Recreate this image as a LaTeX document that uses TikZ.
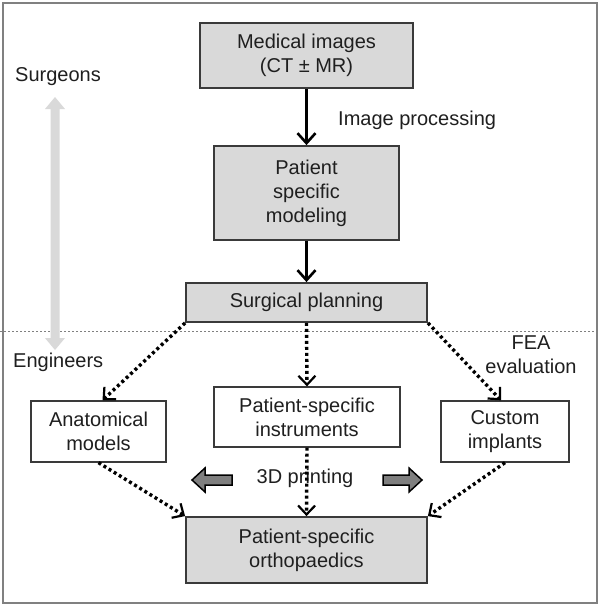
\documentclass[tikz,border=0pt]{standalone}
\usepackage{fontspec}
\setmainfont{Liberation Sans}
\usetikzlibrary{arrows.meta}
\definecolor{boxfill}{HTML}{D9D9D9}
\definecolor{boxline}{HTML}{3A3A3A}
\definecolor{lightarrow}{HTML}{D9D9D9}
\definecolor{blockfill}{HTML}{7F7F7F}
\begin{document}
\begin{tikzpicture}[x=1pt,y=-1pt,
  every node/.style={font=\fontsize{20}{24}\selectfont, text=black!88, align=center, inner sep=0pt},
  graybox/.style={draw=boxline, line width=1.8pt, fill=boxfill},
  whitebox/.style={draw=boxline, line width=1.3pt, fill=white},
  solidarrow/.style={draw=black, line width=2.6pt, -{Straight Barb[length=10pt,width=18pt,line width=2.6pt]}},
  dotarrow/.style={draw=black, line width=3.4pt, dash pattern=on 3pt off 3pt, -{Straight Barb[length=9pt,width=17pt,line width=2.2pt]}},
  blockarrow/.style={draw=black, line width=1.5pt, fill=blockfill, line join=miter}]
\useasboundingbox (0,0) rectangle (600,606);
\fill[white] (0,0) rectangle (600,606);
\draw[gray, line width=1.5pt] (3,3) rectangle (597,603);

% dashed separator
\draw[gray, line width=1pt, dash pattern=on 2pt off 2pt] (0,331) -- (600,331);

% gray double arrow (surgeons <-> engineers)
\fill[lightarrow] (55,97) -- (65,109) -- (59.5,109) -- (59.5,338) -- (65,338) -- (55,350)
  -- (45,338) -- (50.5,338) -- (50.5,109) -- (45,109) -- cycle;

% nodes
\node[graybox, minimum width=213pt, minimum height=65pt] (mi) at (306.5,55.5) {Medical images\\(CT ± MR)};
\node[graybox, minimum width=185pt, minimum height=94pt] (psm) at (306.5,193) {Patient\\specific\\modeling};
\node[graybox, minimum width=241pt, minimum height=39pt] (sp) at (306.5,302.5) {Surgical planning};
\node[whitebox, minimum width=135pt, minimum height=61pt] (am) at (98.5,431.5) {Anatomical\\models};
\node[whitebox, minimum width=186pt, minimum height=60pt] (psi) at (307,417) {Patient-specific\\instruments};
\node[whitebox, minimum width=128pt, minimum height=61pt] (ci) at (505,431.5) {Custom\\implants};
\node[graybox, minimum width=241pt, minimum height=66pt] (pso) at (306.5,550) {Patient-specific\\orthopaedics};

% labels
\node[anchor=west] (surg) at (15,77) {Surgeons};
\node[anchor=west] (eng) at (13,362) {Engineers};
\node[anchor=west] (ip) at (338,120) {Image processing};
\node (fea) at (531,355) {FEA\\evaluation};
\node (print) at (305,478) {3D printing};

% solid arrows
\draw[solidarrow] (mi.south) -- (psm.north);
\draw[solidarrow] (psm.south) -- (sp.north);

% dotted arrows
\draw[dotarrow] (sp.south west) -- ([xshift=4pt]am.north);
\draw[dotarrow] (sp.south) -- (psi.north);
\draw[dotarrow] (sp.south east) -- ([xshift=-4pt]ci.north);
\draw[dotarrow] (am.south) -- (pso.north west);
\draw[dotarrow] (psi.south) -- (pso.north);
\draw[dotarrow] (ci.south) -- (pso.north east);

% block arrows for 3D printing
\draw[blockarrow] (192,480) -- (205,468) -- (205,475) -- (232,475) -- (232,485) -- (205,485) -- (205,492) -- cycle;
\draw[blockarrow] (422,480) -- (409,468) -- (409,475) -- (383,475) -- (383,485) -- (409,485) -- (409,492) -- cycle;
\end{tikzpicture}
\end{document}
